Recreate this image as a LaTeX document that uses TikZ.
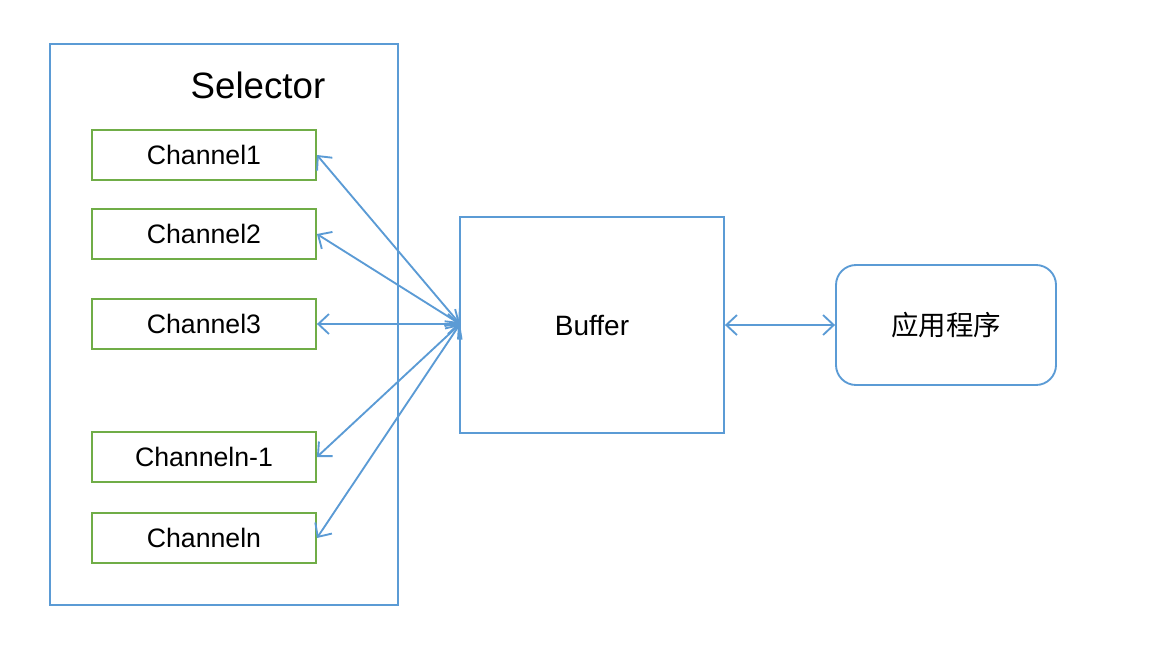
\documentclass[tikz,border=0pt]{standalone}
\usepackage{fontspec}
\setmainfont{Liberation Sans}
\newfontfamily\cjk{Noto Sans CJK SC}
\usetikzlibrary{arrows.meta}
\definecolor{lblue}{HTML}{5B9BD5}
\definecolor{lgreen}{HTML}{70AD47}
\begin{document}
\begin{tikzpicture}[x=0.75pt,y=-0.75pt,
  chbox/.style={draw=lgreen,line width=1.4pt,minimum width=168pt,minimum height=37.5pt,inner sep=0pt,font=\fontsize{20}{24}\selectfont},
  bluebox/.style={draw=lblue,line width=1.4pt,inner sep=0pt},
  link/.style={draw=lblue,line width=1.4pt,{Straight Barb[length=8pt,width=15pt]}-{Straight Barb[length=8pt,width=15pt]}}]
\useasboundingbox (0,0) rectangle (1156,662);
\node[bluebox,minimum width=261pt,minimum height=420.75pt] (sel) at (224,324.5) {};
\node[font=\fontsize{27.5}{32}\selectfont] (seltext) at (258,85) {Selector};
\node[chbox] (c1) at (204,155) {Channel1};
\node[chbox] (c2) at (204,234) {Channel2};
\node[chbox] (c3) at (204,324) {Channel3};
\node[chbox] (cn1) at (204,457) {Channeln-1};
\node[chbox] (cn) at (204,538) {Channeln};
\node[bluebox,minimum width=198pt,minimum height=162pt,font=\fontsize{21}{25}\selectfont] (buf) at (592,325) {Buffer};
\node[bluebox,rounded corners=15pt,minimum width=165pt,minimum height=90pt,font=\cjk\fontsize{20.6}{25}\selectfont] (app) at (946,325) {应用程序};
\coordinate (bw) at (460,324);
\draw[link] (c1.east) -- (bw);
\draw[link] (c2.east) -- (bw);
\draw[link] (c3.east) -- (bw);
\draw[link] (cn1.east) -- (bw);
\draw[link] (cn.east) -- (bw);
\draw[link] (buf.east) -- (app.west);
\end{tikzpicture}
\end{document}
